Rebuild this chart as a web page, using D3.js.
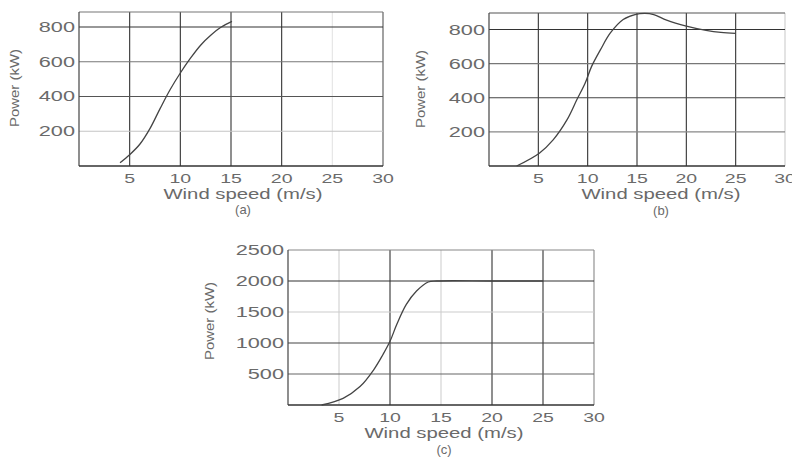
<!DOCTYPE html>
<html>
<head>
<meta charset="utf-8">
<script src="https://cdn.jsdelivr.net/npm/d3@7"></script>
<style>
  body { margin: 0; background: #fff; }
  text { font-family: "Liberation Sans", Arial, sans-serif; fill: #6a6a6a; }
</style>
</head>
<body>
<div id="chart"></div>
<script>
// wind speed ticks shared by all three panels
const windTicks = [5, 10, 15, 20, 25, 30];

// panel (a)
const powerTicksA = [200, 400, 600, 800];
const windA = [4.05, 5, 6, 7, 8, 9, 10, 11, 12, 13, 14, 15.1];
const powerA = [19, 65, 125, 215, 330, 440, 535, 620, 695, 752, 798, 832];

// panel (b)
const powerTicksB = [200, 400, 600, 800];
const windB = [2.8, 5.1, 6.5, 7.9, 8.9, 9.75, 10.4, 11.3, 12.3, 13.6, 14.8, 15.8, 16.7, 18, 20, 22, 23.5, 25];
const powerB = [0, 75, 153, 270, 388, 486, 584, 682, 780, 859, 888, 895, 888, 855, 820, 795, 783, 778];

// panel (c)
const powerTicksC = [500, 1000, 1500, 2000, 2500];
const windC = [3.3, 5.4, 7.06, 8.4, 9.3, 10, 10.66, 11.6, 12.6, 13.75, 14.6, 20, 25];
const powerC = [0, 108, 297, 568, 811, 1027, 1298, 1622, 1838, 1984, 2000, 2000, 2000];

const xLabel = "Wind speed (m/s)";
const yLabel = "Power (kW)";

const width = 792;
const height = 457;

const svg = d3.select("#chart")
  .append("svg")
  .attr("width", width)
  .attr("height", height);

// stretch text horizontally, the scanned lettering is wide
const stretch = (sel, k) => {
  sel.each(function () {
    const len = this.getComputedTextLength();
    d3.select(this)
      .attr("textLength", len * k)
      .attr("lengthAdjust", "spacingAndGlyphs");
  });
};

const panels = [
  {
    name: "(a)", wind: windA, power: powerA, yTicks: powerTicksA, yMax: 886,
    left: 79, top: 12, w: 304, h: 154,
    gridX: { 5: "#333", 10: "#333", 15: "#333", 20: "#333", 25: "#e4e4e4", 30: "#555" },
    gridY: { 200: "#c4c4c4", 400: "#555", 600: "#777", 800: "#333" },
    topColor: "#777",
    yLabelX: 19, yLabelY: 88, cx: 243, subY: 214
  },
  {
    name: "(b)", wind: windB, power: powerB, yTicks: powerTicksB, yMax: 897,
    left: 489, top: 13, w: 296, h: 153,
    gridX: { 5: "#333", 10: "#333", 15: "#333", 20: "#333", 25: "#333", 30: "#ccc" },
    gridY: { 200: "#888", 400: "#444", 600: "#777", 800: "#333" },
    topColor: "#555",
    yLabelX: 425, yLabelY: 89, cx: 661, subY: 215
  },
  {
    name: "(c)", wind: windC, power: powerC, yTicks: powerTicksC, yMax: 2500,
    left: 288, top: 250, w: 306, h: 155,
    gridX: { 5: "#d0d0d0", 10: "#333", 15: "#d0d0d0", 20: "#333", 25: "#333", 30: "#888" },
    gridY: { 500: "#666", 1000: "#444", 1500: "#ccc", 2000: "#333", 2500: "#888" },
    topColor: "#888",
    yLabelX: 214, yLabelY: 321, cx: 444, subY: 454
  }
];

panels.forEach((p) => {
  const x = d3.scaleLinear().domain([0, 30]).range([p.left, p.left + p.w]);
  const y = d3.scaleLinear().domain([0, p.yMax]).range([p.top + p.h, p.top]);
  const g = svg.append("g");

  // vertical grid lines
  g.selectAll(".gx")
    .data(windTicks)
    .enter()
    .append("line")
    .attr("x1", (d) => x(d)).attr("x2", (d) => x(d))
    .attr("y1", p.top).attr("y2", p.top + p.h)
    .attr("stroke", (d) => p.gridX[d])
    .attr("stroke-width", 1.1);

  // horizontal grid lines
  g.selectAll(".gy")
    .data(p.yTicks)
    .enter()
    .append("line")
    .attr("x1", p.left).attr("x2", p.left + p.w)
    .attr("y1", (d) => y(d)).attr("y2", (d) => y(d))
    .attr("stroke", (d) => p.gridY[d])
    .attr("stroke-width", 1.1);

  // top border (where it is not a tick line)
  if (p.yTicks[p.yTicks.length - 1] < p.yMax) {
    g.append("line")
      .attr("x1", p.left).attr("x2", p.left + p.w)
      .attr("y1", p.top).attr("y2", p.top)
      .attr("stroke", p.topColor)
      .attr("stroke-width", 1.1);
  }

  // axes
  g.append("line")
    .attr("x1", p.left).attr("x2", p.left)
    .attr("y1", p.top).attr("y2", p.top + p.h)
    .attr("stroke", "#444").attr("stroke-width", 1.2);
  g.append("line")
    .attr("x1", p.left).attr("x2", p.left + p.w)
    .attr("y1", p.top + p.h).attr("y2", p.top + p.h)
    .attr("stroke", "#333").attr("stroke-width", 1.3);

  // x tick labels
  g.selectAll(".tx")
    .data(windTicks)
    .enter()
    .append("text")
    .attr("x", (d) => x(d))
    .attr("y", p.top + p.h + 17)
    .attr("text-anchor", "middle")
    .style("font-size", "13px")
    .text((d) => d)
    .call(stretch, 1.5);

  // y tick labels
  g.selectAll(".ty")
    .data(p.yTicks)
    .enter()
    .append("text")
    .attr("x", p.left - 4)
    .attr("y", (d) => y(d) + 5)
    .attr("text-anchor", "end")
    .style("font-size", "14px")
    .text((d) => d)
    .call(stretch, 1.55);

  // curve
  const pts = p.wind.map((w, i) => [w, p.power[i]]);
  g.append("path")
    .datum(pts)
    .attr("fill", "none")
    .attr("stroke", "#444")
    .attr("stroke-width", 1.3)
    .attr("d", d3.line()
      .x((d) => x(d[0]))
      .y((d) => y(d[1]))
      .curve(d3.curveCatmullRom));

  // axis titles
  g.append("text")
    .attr("x", p.cx)
    .attr("y", p.top + p.h + 33)
    .attr("text-anchor", "middle")
    .style("font-size", "14px")
    .text(xLabel)
    .call(stretch, 1.45);

  g.append("text")
    .attr("transform", `translate(${p.yLabelX}, ${p.yLabelY}) rotate(-90)`)
    .attr("text-anchor", "middle")
    .style("font-size", "13px")
    .text(yLabel)
    .call(stretch, 1.15);

  g.append("text")
    .attr("x", p.cx)
    .attr("y", p.subY)
    .attr("text-anchor", "middle")
    .style("font-size", "13px")
    .text(p.name);
});
</script>
</body>
</html>
